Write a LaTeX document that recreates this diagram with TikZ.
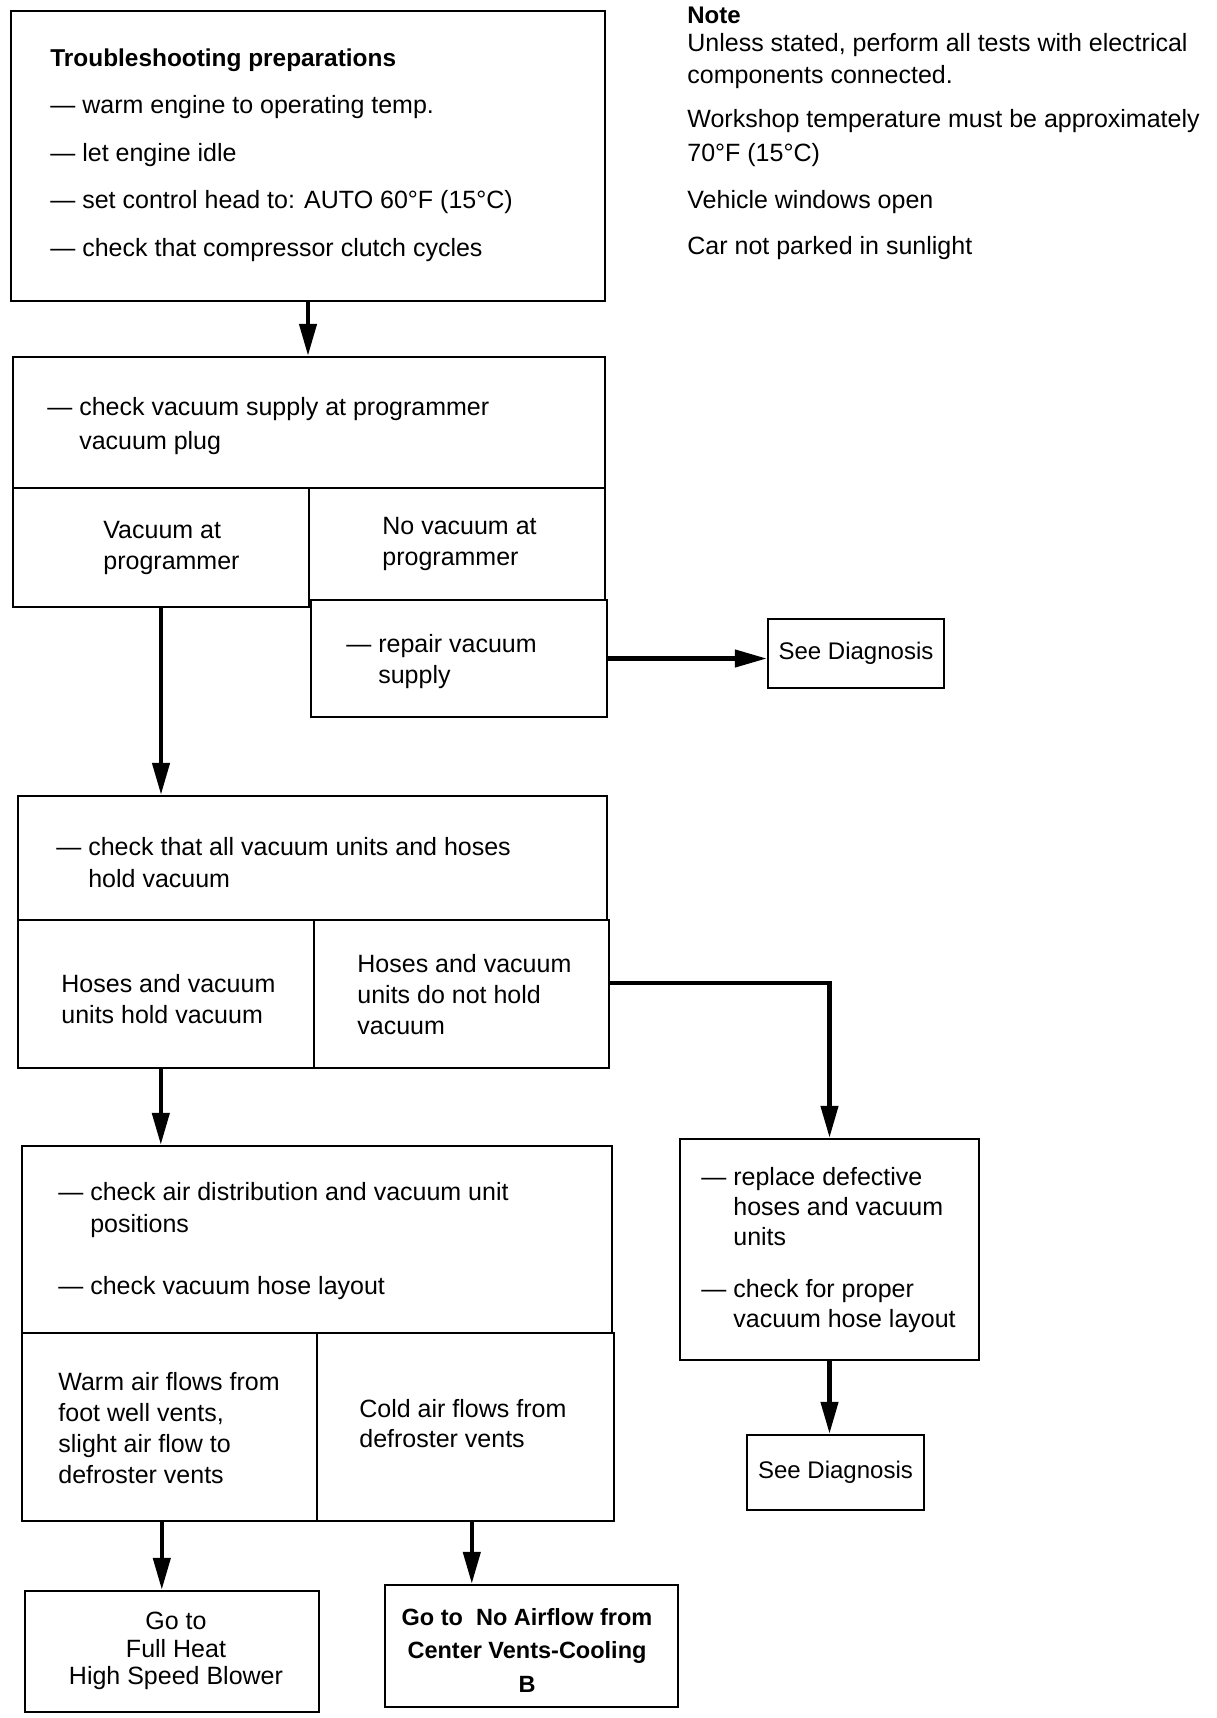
\documentclass[tikz,border=0pt]{standalone}
\usepackage{fontspec}
\setmainfont{Liberation Sans}
\usetikzlibrary{arrows.meta,fit,calc}
\newcommand\dashind{\hphantom{—\ }}
\begin{document}
\begin{tikzpicture}[x=0.5pt,y=-0.5pt,
  box/.style={draw, line width=1.2pt, inner sep=0pt},
  txt/.style={align=left, inner sep=0pt, anchor=west, font=\fontsize{12.5}{16}\selectfont},
  ctxt/.style={align=center, inner sep=0pt, font=\fontsize{12.5}{13.75}\selectfont},
  arr/.style={line width=2.2pt, -{Triangle[length=16pt,width=8.5pt]}},
]
\useasboundingbox (0,0) rectangle (1216,1718);

% boxes
\node[box, fit={(11,11)(605,301)}] (b1) {};
\node[box, fit={(13,357)(605,488)}] (b2t) {};
\node[box, fit={(13,488)(309,607)}] (b2l) {};
\node[box, fit={(309,488)(605,600)}] (b2r) {};
\node[box, fit={(311,600)(607,717)}] (b2f) {};
\node[box, fit={(768,619)(944,688)}] (sd1) {};
\node[box, fit={(18,796)(607,920)}] (b3t) {};
\node[box, fit={(18,920)(314,1068)}] (b3l) {};
\node[box, fit={(314,920)(609,1068)}] (b3r) {};
\node[box, fit={(680,1139)(979,1360)}] (rep) {};
\node[box, fit={(747,1435)(924,1510)}] (sd2) {};
\node[box, fit={(22,1146)(612,1333)}] (b4t) {};
\node[box, fit={(22,1333)(317,1521)}] (b4l) {};
\node[box, fit={(317,1333)(614,1521)}] (b4r) {};
\node[box, fit={(25,1591)(319,1712)}] (go1) {};
\node[box, fit={(385,1585)(678,1707)}] (go2) {};

% texts
\node[txt, font=\fontsize{12.5}{23.75}\selectfont] (t1) at (50,155)
  {{\bfseries\fontsize{12.2}{23.75}\selectfont Troubleshooting preparations}\\
   — warm engine to operating temp.\\
   — let engine idle\\
   — set control head to: AUTO 60°F (15°C)\\
   — check that compressor clutch cycles};

\node[txt, font=\fontsize{12.5}{17}\selectfont] (t2t) at (47,426)
  {— check vacuum supply at programmer\\ \dashind vacuum plug};
\node[txt, font=\fontsize{12.5}{15.5}\selectfont] (t2l) at (103,548) {Vacuum at\\ programmer};
\node[txt, font=\fontsize{12.5}{15.5}\selectfont] (t2r) at (382,544) {No vacuum at\\ programmer};
\node[txt, font=\fontsize{12.5}{15.5}\selectfont] (t2f) at (346,662) {— repair vacuum\\ \dashind supply};
\node[ctxt, font=\fontsize{12}{13.75}\selectfont] (tsd1) at (sd1) {See Diagnosis};

\node[txt] (t3t) at (56,863) {— check that all vacuum units and hoses\\ \dashind hold vacuum};
\node[txt, font=\fontsize{12.5}{15.5}\selectfont] (t3l) at (61,999) {Hoses and vacuum\\ units hold vacuum};
\node[txt, font=\fontsize{12.5}{15.5}\selectfont] (t3r) at (357,995) {Hoses and vacuum\\ units do not hold\\ vacuum};

\node[txt] (t4t) at (58,1241)
  {— check air distribution and vacuum unit\\ \dashind positions\\[15pt] — check vacuum hose layout};
\node[txt, font=\fontsize{12.5}{15.5}\selectfont] (t4l) at (58,1428)
  {Warm air flows from\\ foot well vents,\\ slight air flow to\\ defroster vents};
\node[txt, font=\fontsize{12.5}{15}\selectfont] (t4r) at (359,1424) {Cold air flows from\\ defroster vents};

\node[txt, font=\fontsize{12.5}{15}\selectfont] (trep) at (701,1250)
  {— replace defective\\ \dashind hoses and vacuum\\ \dashind units\\[11pt]
   — check for proper\\ \dashind vacuum hose layout};
\node[ctxt, font=\fontsize{12}{13.75}\selectfont] (tsd2) at (sd2) {See Diagnosis};

\node[ctxt] (tgo1) at (176,1651) {Go to\\ Full Heat\\ High Speed Blower};
\node[ctxt, font=\bfseries\fontsize{11.75}{16.75}\selectfont] (tgo2) at (527,1650)
  {Go to\ \ No Airflow from\\ Center Vents-Cooling\\ B};

% note
\node[txt, font=\bfseries\fontsize{12}{16}\selectfont] (nt) at (687,15) {Note};
\node[txt] (n1) at (687,61) {Unless stated, perform all tests with electrical\\ components connected.};
\node[txt, font=\fontsize{12.5}{17}\selectfont] (n2) at (687,138) {Workshop temperature must be approximately\\ 70°F (15°C)};
\node[txt] (n3) at (687,202) {Vehicle windows open};
\node[txt] (n4) at (687,248) {Car not parked in sunlight};

% connectors
\coordinate (a3) at ($(b3l.south west)+(144,0)$);
\coordinate (a4) at ($(b4l.south west)+(141,0)$);
\coordinate (a5) at ($(b4r.south west)+(156,0)$);
\draw[arr] (b1.south) -- (b1.south |- b2t.north);
\draw[arr] (b2l.south) -- (b2l.south |- b3t.north);
\draw[arr] (b2f.east) -- (b2f.east -| sd1.west);
\draw[arr] ([yshift=5.5pt]b3r.east) -| (rep.north);
\draw[arr] (a3) -- (a3 |- b4t.north);
\draw[arr] (rep.south) -- (rep.south |- sd2.north);
\draw[arr] (a4) -- (a4 |- go1.north);
\draw[arr] (a5) -- (a5 |- go2.north);
\end{tikzpicture}
\end{document}
